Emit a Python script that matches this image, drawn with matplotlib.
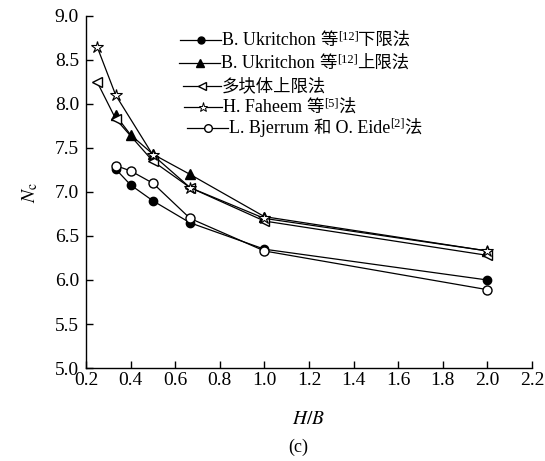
import matplotlib
matplotlib.use('Agg')
import matplotlib.pyplot as plt
from matplotlib.lines import Line2D
from matplotlib.ticker import FormatStrFormatter

plt.rcParams['font.family'] = ['Liberation Serif', 'Noto Sans CJK SC']
plt.rcParams['mathtext.fontset'] = 'stix'

# data
x_lb = [1/3, 0.4, 0.5, 2/3, 1.0, 2.0]
y_lb = [7.26, 7.08, 6.90, 6.65, 6.35, 6.00]

x_ub = [1/3, 0.4, 0.5, 2/3, 1.0, 2.0]
y_ub = [7.87, 7.65, 7.43, 7.20, 6.72, 6.33]

x_mb = [0.25, 1/3, 0.5, 2/3, 1.0, 2.0]
y_mb = [8.25, 7.83, 7.35, 7.05, 6.67, 6.28]

x_fh = [0.25, 1/3, 0.5, 2/3, 1.0, 2.0]
y_fh = [8.65, 8.10, 7.42, 7.05, 6.70, 6.33]

x_bj = [1/3, 0.4, 0.5, 2/3, 1.0, 2.0]
y_bj = [7.30, 7.24, 7.10, 6.70, 6.33, 5.89]

# legend labels split into pieces: 'l' latin, 'c' chinese, 's' superscript
labels = [
    [('B. Ukritchon ', 'l'), ('等', 'c'), ('[12]', 's'), ('下限法', 'c')],
    [('B. Ukritchon ', 'l'), ('等', 'c'), ('[12]', 's'), ('上限法', 'c')],
    [('多块体上限法', 'c')],
    [('H. Faheem ', 'l'), ('等', 'c'), ('[5]', 's'), ('法', 'c')],
    [('L. Bjerrum ', 'l'), ('和', 'c'), (' O. Eide', 'l'), ('[2]', 's'), ('法', 'c')],
]

W, H = 545, 461
fig = plt.figure(figsize=(W / 100, H / 100), dpi=100)
ax = fig.add_axes([86 / W, 93 / H, 446 / W, 352 / H])

kw = dict(color='black', lw=0.9)
styles = [
    dict(marker='o', ms=6, mfc='black', mec='black'),
    dict(marker='^', ms=7, mfc='black', mec='black'),
    dict(marker='<', ms=7, mfc='white', mec='black'),
    dict(marker='*', ms=9, mfc='white', mec='black', mew=0.8),
    dict(marker='o', ms=6.5, mfc='white', mec='black'),
]
series = [(x_lb, y_lb), (x_ub, y_ub), (x_mb, y_mb), (x_fh, y_fh), (x_bj, y_bj)]
for (xs, ys), st in zip(series, styles):
    ax.plot(xs, ys, **st, **kw)

ax.set_xlim(0.2, 2.2)
ax.set_ylim(5.0, 9.0)
ax.set_xticks([0.2, 0.4, 0.6, 0.8, 1.0, 1.2, 1.4, 1.6, 1.8, 2.0, 2.2])
ax.set_yticks([5.0, 5.5, 6.0, 6.5, 7.0, 7.5, 8.0, 8.5, 9.0])
ax.xaxis.set_major_formatter(FormatStrFormatter('%.1f'))
ax.yaxis.set_major_formatter(FormatStrFormatter('%.1f'))
ax.tick_params(direction='in', length=5, width=1, labelsize=14)
ax.tick_params(axis='x', pad=3)
ax.tick_params(axis='y', pad=5)
ax.spines['top'].set_visible(False)
ax.spines['right'].set_visible(False)
for s in ['left', 'bottom']:
    ax.spines[s].set_linewidth(1)

ax.set_xlabel('$H/B$', fontsize=14, labelpad=16)
ax.set_ylabel('$N_\\mathrm{c}$', fontsize=14, labelpad=11)

# hand-made legend (superscripts mixed with CJK text)
leg_y = [40, 63, 86, 107, 128]
leg_x0 = [180, 179, 183, 184, 187]
leg_x1 = [221, 220, 221, 222, 228]
leg_st = [
    dict(marker='o', ms=5, mfc='black', mec='black'),
    dict(marker='^', ms=5.5, mfc='black', mec='black'),
    dict(marker='<', ms=6, mfc='white', mec='black'),
    dict(marker='*', ms=6.5, mfc='white', mec='black', mew=0.7),
    dict(marker='o', ms=5.5, mfc='white', mec='black'),
]
sizes = {'l': 13, 'c': 12.5, 's': 9}
r = fig.canvas.get_renderer()
for y, x0, x1, st, parts in zip(leg_y, leg_x0, leg_x1, leg_st, labels):
    yf = 1 - y / H
    fig.add_artist(Line2D([x0 / W, x1 / W], [yf, yf], transform=fig.transFigure,
                          color='black', lw=0.9))
    fig.add_artist(Line2D([(x0 + x1) / 2 / W], [yf], transform=fig.transFigure,
                          ls='none', **st))
    xp = x1 + 1
    for s, kind in parts:
        yb = y - 1 if kind == 's' else y + 5
        t = fig.text(xp / W, 1 - yb / H, s, fontsize=sizes[kind], va='baseline')
        xp += t.get_window_extent(r).width

fig.text(298 / W, 1 - 452 / H, '(c)', ha='center', fontsize=13)

fig.savefig('out.png', dpi=100)
